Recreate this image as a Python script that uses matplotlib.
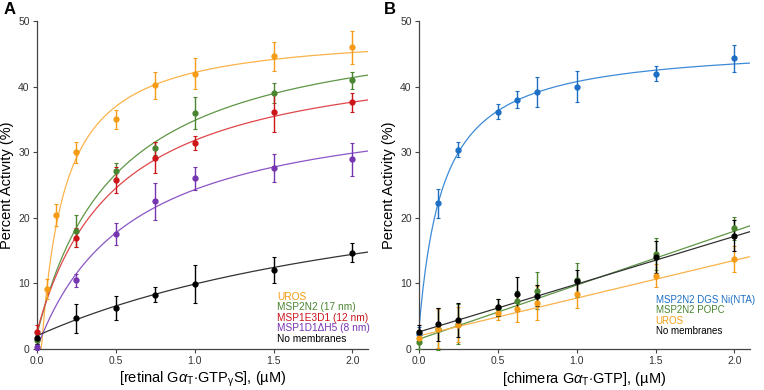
import matplotlib
matplotlib.use("Agg")
import matplotlib.pyplot as plt
import numpy as np

plt.rcParams['font.family'] = ['Liberation Sans', 'DejaVu Sans']
plt.rcParams['mathtext.fontset'] = 'custom'
plt.rcParams['mathtext.rm'] = 'Liberation Sans'
plt.rcParams['mathtext.it'] = 'Liberation Sans:italic'

# ---- Panel A data ----
xA = [0.0, 0.0625, 0.125, 0.25, 0.5, 0.75, 1.0, 1.5, 2.0]
uros_x = xA[1:]
uros_y = [9.2, 20.4, 30.0, 35.0, 40.2, 42.0, 44.6, 46.0]
uros_e = [1.5, 1.7, 1.6, 1.5, 2.1, 2.4, 2.2, 2.5]

xA7 = [0.0, 0.25, 0.5, 0.75, 1.0, 1.5, 2.0]
msp2n2_y = [1.4, 18.0, 27.2, 30.6, 36.0, 39.0, 41.0]
msp2n2_e = [0.8, 2.5, 1.2, 1.0, 2.4, 1.5, 1.3]
msp1e3_y = [2.6, 17.0, 25.8, 29.2, 31.4, 36.1, 37.6]
msp1e3_e = [1.0, 1.4, 2.0, 2.4, 1.1, 3.0, 1.5]
msp1d1_y = [0.3, 10.5, 17.5, 22.5, 26.0, 27.6, 28.9]
msp1d1_e = [0.4, 1.0, 1.7, 2.8, 1.8, 2.1, 2.5]
nomemA_y = [1.7, 4.7, 6.3, 8.3, 9.9, 12.0, 14.7]
nomemA_e = [1.0, 2.2, 1.8, 1.2, 2.9, 2.0, 1.5]

# hyperbolic fit parameters: offset x0, baseline y0, Vmax, K
fitA = {
    'uros': (0.03, 0.0, 48.6, 0.148),
    'msp2n2': (0.0, 2.0, 49.2, 0.498),
    'msp1e3': (0.0, 2.5, 43.9, 0.498),
    'msp1d1': (0.0, 0.0, 38.75, 0.595),
    'nomem': (0.0, 2.0, 29.3, 2.71),
}

# ---- Panel B data ----
xB = [0.0, 0.125, 0.25, 0.5, 0.625, 0.75, 1.0, 1.5, 2.0]
dgs_y = [2.3, 22.2, 30.4, 36.2, 38.0, 39.2, 40.0, 42.0, 44.3]
dgs_e = [1.0, 2.2, 1.1, 1.2, 1.3, 2.3, 2.4, 1.1, 2.1]
popc_y = [1.0, 3.0, 3.8, 6.3, 7.4, 8.9, 10.5, 14.5, 18.4]
popc_e = [1.0, 3.2, 3.0, 1.3, 1.5, 2.8, 2.6, 2.5, 1.7]
urosB_y = [1.7, 3.1, 3.7, 5.5, 6.1, 7.0, 8.4, 11.2, 13.7]
urosB_e = [1.0, 3.0, 2.7, 1.0, 2.0, 2.6, 2.1, 1.7, 2.0]
nomemB_y = [2.6, 3.8, 4.4, 6.4, 8.4, 8.1, 10.3, 14.0, 17.3]
nomemB_e = [1.0, 2.5, 2.6, 1.3, 2.6, 1.6, 1.7, 2.4, 2.4]

fit_dgs = (0.0, 2.5, 44.07, 0.152)
# linear fits: intercept, slope
fit_popc = (1.5, 8.24)
fit_nomemB = (2.6, 7.29)
fit_urosB = (2.0, 5.76)

c_orange = '#F59B16'
c_orange_l = '#FBB24A'
c_green = '#4A8531'
c_green_l = '#5E9645'
c_red = '#CC1419'
c_red_l = '#E0474A'
c_purple = '#7535B0'
c_purple_l = '#8B55C6'
c_black = '#000000'
c_black_l = '#333333'
c_blue = '#1C6FC4'
c_blue_l = '#3C8AD8'


def hyper(x, p):
    x0, y0, vmax, k = p
    u = np.clip(x - x0, 0, None)
    return y0 + vmax * u / (k + u)


def series(ax, x, y, e, col, col_l, xfit, yfit):
    ax.plot(xfit, yfit, color=col_l, lw=0.9, zorder=2)
    ax.errorbar(x, y, yerr=e, fmt='o', ms=3.5, color=col, ecolor=col,
                elinewidth=1.0, capsize=1.5, capthick=0.8, zorder=3, clip_on=False)


def style(ax):
    ax.set_xlim(0, 2.1)
    ax.set_ylim(0, 50)
    ax.set_xticks([0, 0.5, 1.0, 1.5, 2.0])
    ax.set_xticklabels(['0.0', '0.5', '1.0', '1.5', '2.0'])
    ax.set_yticks([0, 10, 20, 30, 40, 50])
    ax.spines['top'].set_visible(False)
    ax.spines['right'].set_visible(False)
    for s in ['left', 'bottom']:
        ax.spines[s].set_color('#444444')
        ax.spines[s].set_linewidth(0.9)
    ax.tick_params(labelsize=7.5, length=3, width=0.8, pad=2, color='#444444', labelcolor='#333333')
    ax.set_ylabel('Percent Activity (%)', fontsize=10.5, labelpad=3)


fig = plt.figure(figsize=(7.64, 3.9), dpi=100)
axA = fig.add_axes([0.048, 0.105, 0.434, 0.841])
axB = fig.add_axes([0.548, 0.105, 0.434, 0.841])

xf = np.linspace(0, 2.1, 300)
series(axA, uros_x, uros_y, uros_e, c_orange, c_orange_l, xf, hyper(xf, fitA['uros']))
series(axA, xA7, msp2n2_y, msp2n2_e, c_green, c_green_l, xf, hyper(xf, fitA['msp2n2']))
series(axA, xA7, msp1e3_y, msp1e3_e, c_red, c_red_l, xf, hyper(xf, fitA['msp1e3']))
series(axA, xA7, msp1d1_y, msp1d1_e, c_purple, c_purple_l, xf, hyper(xf, fitA['msp1d1']))
series(axA, xA7, nomemA_y, nomemA_e, c_black, c_black_l, xf, hyper(xf, fitA['nomem']))
style(axA)
axA.set_xlabel(r'[retinal G$\alpha_\mathrm{T}$$\cdot$GTP$_\mathrm{γ}$S], (µM)', fontsize=10.5, labelpad=3)

legA = [('UROS', c_orange), ('MSP2N2 (17 nm)', c_green), ('MSP1E3D1 (12 nm)', c_red),
        ('MSP1D1ΔH5 (8 nm)', c_purple), ('No membranes', c_black)]
for i, (t, c) in enumerate(legA):
    axA.text(1.525, 8.0 - i * 1.6, t, color=c, fontsize=7.3, va='center', ha='left')

series(axB, xB, dgs_y, dgs_e, c_blue, c_blue_l, xf, hyper(xf, fit_dgs))
series(axB, xB, popc_y, popc_e, c_green, c_green_l, xf, fit_popc[0] + fit_popc[1] * xf)
series(axB, xB, urosB_y, urosB_e, c_orange, c_orange_l, xf, fit_urosB[0] + fit_urosB[1] * xf)
series(axB, xB, nomemB_y, nomemB_e, c_black, c_black_l, xf, fit_nomemB[0] + fit_nomemB[1] * xf)
style(axB)
axB.set_xlabel(r'[chimera G$\alpha_\mathrm{T}$$\cdot$GTP], (µM)', fontsize=10.5, labelpad=3)

legB = [('MSP2N2 DGS Ni(NTA)', c_blue), ('MSP2N2 POPC', c_green), ('UROS', c_orange),
        ('No membranes', c_black)]
for i, (t, c) in enumerate(legB):
    axB.text(1.5, 7.5 - i * 1.6, t, color=c, fontsize=7.0, va='center', ha='left')

fig.text(0.005, 0.975, 'A', fontsize=12, fontweight='bold', va='center', ha='left')
fig.text(0.502, 0.975, 'B', fontsize=12, fontweight='bold', va='center', ha='left')

fig.savefig('out.png', dpi=100)
